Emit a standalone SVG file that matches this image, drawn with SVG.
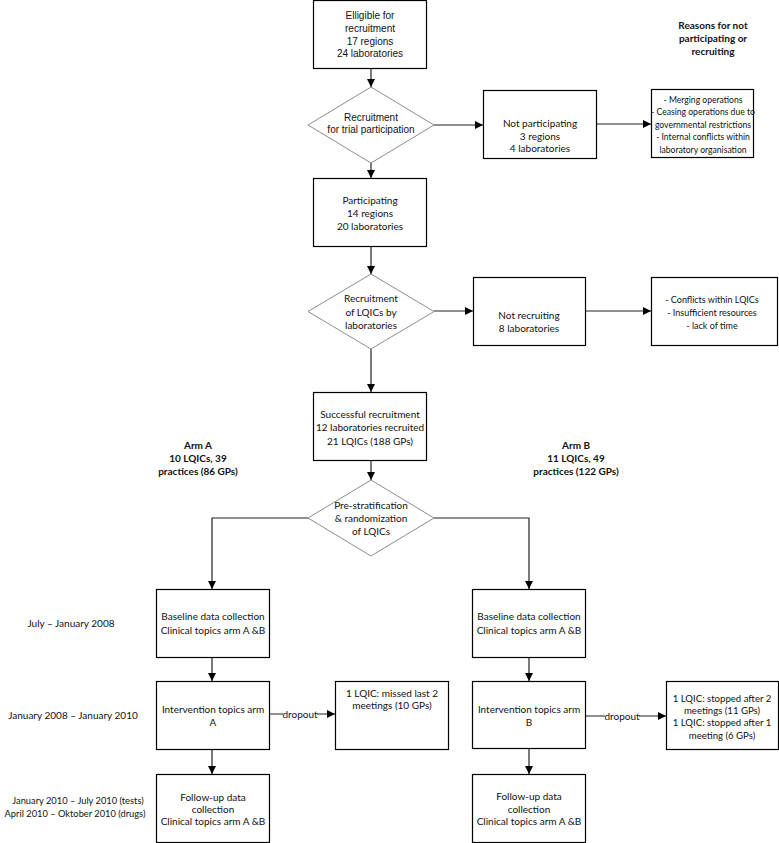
<svg xmlns="http://www.w3.org/2000/svg" width="779" height="843" viewBox="0 0 779 843">
<defs>
<marker id="ah" markerUnits="userSpaceOnUse" markerWidth="8" markerHeight="8" refX="8" refY="4" orient="auto">
<path d="M0,0 L8,4 L0,8 z" fill="#000"/>
</marker>
<style>
.box{fill:#fff;stroke:#000;stroke-width:1.2}
.dia{fill:#fff;stroke:#8c8c8c;stroke-width:1}
.arr{fill:none;stroke:#222;stroke-width:1.2;marker-end:url(#ah)}
text{font-family:Lato,"Open Sans",sans-serif;font-size:10px;fill:#111;text-anchor:middle}
.ar{font-family:"Liberation Sans",Arial,sans-serif;font-size:10px}
.b{font-weight:bold}
.s{font-size:8.6px}
.s2{font-size:9px}
.t{font-size:9.3px}
.m{font-size:9.6px}
</style>
</defs>
<rect width="779" height="843" fill="#fff"/>

<g id="connectors">
<path class="arr" d="M371,68 V87"/>
<path class="arr" d="M434,125 H483"/>
<path class="arr" d="M596,124 H651"/>
<path class="arr" d="M371,163 V178"/>
<path class="arr" d="M371,246 V274"/>
<path class="arr" d="M434,311 H473"/>
<path class="arr" d="M585,311 H651"/>
<path class="arr" d="M371,349 V392"/>
<path class="arr" d="M371,460 V480"/>
<path class="arr" d="M308,518 H212 V589"/>
<path class="arr" d="M434,518 H529 V589"/>
<path class="arr" d="M212,657 V681"/>
<path class="arr" d="M212,749 V774"/>
<path class="arr" d="M529,657 V681"/>
<path class="arr" d="M529,748 V774"/>
<path class="arr" d="M269,714 H335"/>
<path class="arr" d="M585,716 H666"/>
<rect x="283" y="707" width="34" height="13" fill="#fff"/>
<text x="300" y="717.5">dropout</text>
<rect x="605" y="709" width="34" height="13" fill="#fff"/>
<text x="622" y="719.5">dropout</text>
</g>

<g id="eligible">
<rect class="box" x="313.5" y="0.5" width="113" height="68"/>
<text class="ar" x="370" y="18.5">Elligible for</text>
<text class="ar" x="370" y="31.5">recruitment</text>
<text class="ar" x="370" y="44.5">17 regions</text>
<text class="ar" x="370" y="56.5">24 laboratories</text>
</g>

<g id="recruit-trial">
<polygon class="dia" points="371,87 434,125 371,163 308,125"/>
<text class="ar" x="371" y="120.5">Recruitment</text>
<text class="ar" x="371" y="132.5">for trial participation</text>
</g>

<g id="not-participating">
<rect class="box" x="483.5" y="90.5" width="113" height="68"/>
<text x="540" y="126.5">Not participating</text>
<text x="540" y="139.5">3 regions</text>
<text x="540" y="151.5">4 laboratories</text>
</g>

<g id="reasons-title">
<text class="b" x="713" y="28.5">Reasons for not</text>
<text class="b" x="713" y="41.5">participating or</text>
<text class="b" x="713" y="54.5">recruiting</text>
</g>

<g id="reasons-1">
<rect class="box" x="651.5" y="89.5" width="102" height="68"/>
<text class="s" x="703" y="102.5">- Merging operations</text>
<text class="s" x="703" y="115">- Ceasing operations due to</text>
<text class="s" x="703" y="127.5">governmental restrictions</text>
<text class="s" x="703" y="140">- Internal conflicts within</text>
<text class="s" x="703" y="152.5">laboratory organisation</text>
</g>

<g id="participating">
<rect class="box" x="313.5" y="178.5" width="113" height="68"/>
<text x="370" y="203.5">Participating</text>
<text x="370" y="216.5">14 regions</text>
<text x="370" y="229.5">20 laboratories</text>
</g>

<g id="recruit-lqic">
<polygon class="dia" points="371,274 434,311.5 371,349 308,311.5"/>
<text x="371" y="301.5">Recruitment</text>
<text x="371" y="315.5">of LQICs by</text>
<text x="371" y="328.5">laboratories</text>
</g>

<g id="not-recruiting">
<rect class="box" x="473.5" y="277.5" width="112" height="68"/>
<text x="529" y="318.5">Not recruiting</text>
<text x="529" y="331.5">8 laboratories</text>
</g>

<g id="reasons-2">
<rect class="box" x="651.5" y="277.5" width="126" height="68"/>
<text class="s2" x="712" y="302.5">- Conflicts within LQICs</text>
<text class="s2" x="712" y="315.5">- Insufficient resources</text>
<text class="s2" x="712" y="328.5">- lack of time</text>
</g>

<g id="successful">
<rect class="box" x="313.5" y="392.5" width="113" height="68"/>
<text x="370" y="417.5">Successful recruitment</text>
<text x="370" y="431">12 laboratories recruited</text>
<text x="370" y="444.5">21 LQICs (188 GPs)</text>
</g>

<g id="arm-a-label">
<text class="b" x="198" y="448.5">Arm A</text>
<text class="b" x="198" y="461.5">10 LQICs, 39</text>
<text class="b" x="198" y="474.5">practices (86 GPs)</text>
</g>

<g id="arm-b-label">
<text class="b" x="576" y="448.5">Arm B</text>
<text class="b" x="576" y="461.5">11 LQICs, 49</text>
<text class="b" x="576" y="474.5">practices (122 GPs)</text>
</g>

<g id="randomization">
<polygon class="dia" points="371,480 434,518 371,556 308,518"/>
<text x="371" y="508.5">Pre-stratification</text>
<text x="371" y="521.5">&amp; randomization</text>
<text x="371" y="534.5">of LQICs</text>
</g>

<g id="time-labels">
<text x="71" y="626.5">July – January 2008</text>
<text x="73" y="718.5">January 2008 – January 2010</text>
<text class="t" x="78" y="803.5">January 2010 – July 2010 (tests)</text>
<text class="t" x="75" y="816.5">April 2010 – Oktober 2010 (drugs)</text>
</g>

<g id="baseline-a">
<rect class="box" x="156.5" y="589.5" width="113" height="68"/>
<text x="213" y="619.5">Baseline data collection</text>
<text x="213" y="634">Clinical topics arm A &amp;B</text>
</g>

<g id="intervention-a">
<rect class="box" x="156.5" y="681.5" width="113" height="68"/>
<text x="213" y="712.5">Intervention topics arm</text>
<text x="213" y="725.5">A</text>
</g>

<g id="dropout-a">
<rect class="box" x="335.5" y="681.5" width="113" height="68"/>
<text x="392" y="696.5">1 LQIC: missed last 2</text>
<text x="392" y="708.5">meetings (10 GPs)</text>
</g>

<g id="followup-a">
<rect class="box" x="156.5" y="774.5" width="113" height="68"/>
<text x="213" y="800.5">Follow-up data</text>
<text x="213" y="812.5">collection</text>
<text x="213" y="824.5">Clinical topics arm A &amp;B</text>
</g>

<g id="baseline-b">
<rect class="box" x="472.5" y="589.5" width="113" height="68"/>
<text x="529" y="619.5">Baseline data collection</text>
<text x="529" y="634">Clinical topics arm A &amp;B</text>
</g>

<g id="intervention-b">
<rect class="box" x="472.5" y="681.5" width="113" height="67"/>
<text x="529" y="712.5">Intervention topics arm</text>
<text x="529" y="725.5">B</text>
</g>

<g id="dropout-b">
<rect class="box" x="666.5" y="681.5" width="112" height="68"/>
<text class="m" x="722" y="701.5">1 LQIC: stopped after 2</text>
<text class="m" x="722" y="713.5">meetings (11 GPs)</text>
<text class="m" x="722" y="725.5">1 LQIC: stopped after 1</text>
<text class="m" x="722" y="738.5">meeting (6 GPs)</text>
</g>

<g id="followup-b">
<rect class="box" x="472.5" y="774.5" width="113" height="68"/>
<text x="529" y="799.5">Follow-up data</text>
<text x="529" y="812.5">collection</text>
<text x="529" y="824.5">Clinical topics arm A &amp;B</text>
</g>
</svg>
